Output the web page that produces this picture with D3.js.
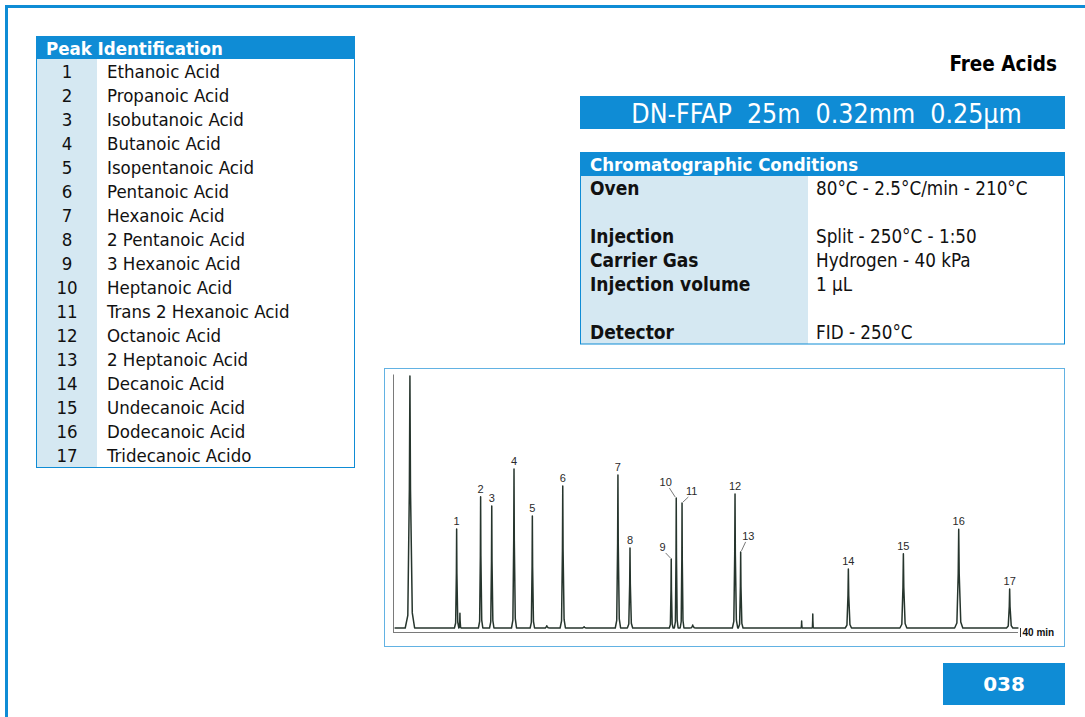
<!DOCTYPE html>
<html>
<head>
<meta charset="utf-8">
<script src="https://cdn.jsdelivr.net/npm/d3@7"></script>
<style>
  html, body { margin: 0; padding: 0; background: #fff; }
  svg { display: block; }
  .cond { font-family: "DejaVu Sans Condensed", "DejaVu Sans", sans-serif; font-stretch: condensed; }
  .num { font-family: "Liberation Sans", Arial, sans-serif; }
</style>
</head>
<body>
<svg id="chart" width="1085" height="717"></svg>
<script>
// ---------------- DATA ----------------
const peakIds = ["1","2","3","4","5","6","7","8","9","10","11","12","13","14","15","16","17"];
const peakNames = ["Ethanoic Acid","Propanoic Acid","Isobutanoic Acid","Butanoic Acid","Isopentanoic Acid",
  "Pentanoic Acid","Hexanoic Acid","2 Pentanoic Acid","3 Hexanoic Acid","Heptanoic Acid",
  "Trans 2 Hexanoic Acid","Octanoic Acid","2 Heptanoic Acid","Decanoic Acid","Undecanoic Acid",
  "Dodecanoic Acid","Tridecanoic Acido"];
// retention time (min) and relative height (%) of the labelled peaks
const peakTimes   = [4.06, 5.59, 6.30, 7.72, 8.89, 10.83, 14.35, 15.12, 17.75, 18.07, 18.44, 21.82, 22.18, 29.05, 32.56, 36.09, 39.34];
const peakHeights = [39.3, 52.1, 48.4, 63.1, 44.4, 56.3, 60.7, 31.7, 27.4, 51.6, 49.6, 53.2, 30.2, 23.4, 29.5, 39.2, 15.5];
const peakWidths  = [0.14, 0.14, 0.14, 0.16, 0.14, 0.17, 0.17, 0.17, 0.12, 0.12, 0.12, 0.17, 0.15, 0.20, 0.22, 0.26, 0.20];
// unlabelled peaks: solvent and minor impurities
const minorTimes   = [1.08, 4.27, 9.81, 12.19, 19.12, 26.07, 26.78];
const minorHeights = [100, 5.9, 0.9, 0.5, 1.2, 2.8, 5.6];
const minorWidths  = [0.30, 0.08, 0.20, 0.20, 0.20, 0.05, 0.05];
const axisEnd = 40; // minutes
const axisLabel = "40 min";

const condLabels = ["Oven", "", "Injection", "Carrier Gas", "Injection volume", "", "Detector"];
const condValues = ["80°C - 2.5°C/min - 210°C", "", "Split - 250°C - 1:50", "Hydrogen - 40 kPa", "1 µL", "", "FID - 250°C"];

const title = "Free Acids";
const columnText = "DN-FFAP  25m  0.32mm  0.25µm";
const pageNo = "038";

// ---------------- STYLE ----------------
const BLUE = "#0f8cd5";
const LIGHT = "#d5e8f2";
const svg = d3.select("#chart");

// page frame
svg.append("path").attr("d", "M6.5,717 V6.5 H1085").attr("fill", "none")
  .attr("stroke", BLUE).attr("stroke-width", 3);

// ---------------- PEAK TABLE ----------------
const pt = svg.append("g");
const rowY = d3.scaleLinear().domain([0, 1]).range([71, 95]);
pt.append("rect").attr("x", 36).attr("y", 36).attr("width", 319).attr("height", 23).attr("fill", BLUE);
pt.append("rect").attr("x", 37).attr("y", 59).attr("width", 60).attr("height", 408).attr("fill", LIGHT);
pt.append("rect").attr("x", 36.5).attr("y", 36.5).attr("width", 318).attr("height", 431)
  .attr("fill", "none").attr("stroke", BLUE).attr("stroke-width", 1);
pt.append("text").attr("class", "cond").attr("x", 46).attr("y", 48).attr("dy", "0.36em")
  .attr("font-size", 18.5).attr("font-weight", "bold").attr("fill", "#fff").text("Peak Identification");
pt.selectAll("text.id").data(peakIds).join("text").attr("class", "cond id")
  .attr("x", 67).attr("y", (d, i) => rowY(i)).attr("dy", "0.36em").attr("text-anchor", "middle")
  .attr("font-size", 18.5).attr("fill", "#111").text(d => d);
pt.selectAll("text.nm").data(peakNames).join("text").attr("class", "cond nm")
  .attr("x", 107).attr("y", (d, i) => rowY(i)).attr("dy", "0.36em")
  .attr("font-size", 18.5).attr("fill", "#111").text(d => d);

// ---------------- TITLE + COLUMN BANNER ----------------
svg.append("text").attr("class", "cond").attr("x", 1057).attr("y", 64).attr("dy", "0.36em")
  .attr("text-anchor", "end").attr("font-size", 20.5).attr("font-weight", "bold").attr("fill", "#000").text(title);
svg.append("rect").attr("x", 580).attr("y", 96).attr("width", 485).attr("height", 33).attr("fill", BLUE);
svg.append("text").attr("class", "cond").attr("x", 826.5).attr("y", 113).attr("dy", "0.36em")
  .attr("text-anchor", "middle").attr("font-size", 26.5).attr("fill", "#fff")
  .style("white-space", "pre").text(columnText);

// ---------------- CONDITIONS TABLE ----------------
const ct = svg.append("g");
ct.append("rect").attr("x", 580).attr("y", 152).attr("width", 485).attr("height", 24).attr("fill", BLUE);
ct.append("rect").attr("x", 581).attr("y", 176).attr("width", 227).attr("height", 168).attr("fill", LIGHT);
ct.append("rect").attr("x", 580.5).attr("y", 152.5).attr("width", 484).attr("height", 191.5)
  .attr("fill", "none").attr("stroke", BLUE).attr("stroke-width", 1);
ct.append("text").attr("class", "cond").attr("x", 590).attr("y", 164).attr("dy", "0.36em")
  .attr("font-size", 18.5).attr("font-weight", "bold").attr("fill", "#fff").text("Chromatographic Conditions");
const condY = d3.scaleLinear().domain([0, 1]).range([188, 212]);
ct.selectAll("text.lb").data(condLabels).join("text").attr("class", "cond lb")
  .attr("x", 590).attr("y", (d, i) => condY(i)).attr("dy", "0.36em")
  .attr("font-size", 19).attr("font-weight", "bold").attr("fill", "#111").text(d => d);
ct.selectAll("text.vl").data(condValues).join("text").attr("class", "cond vl")
  .attr("x", 816).attr("y", (d, i) => condY(i)).attr("dy", "0.36em")
  .attr("font-size", 18.7).attr("fill", "#111").text(d => d);

// ---------------- CHROMATOGRAM ----------------
svg.append("rect").attr("x", 384.5).attr("y", 368.5).attr("width", 680).attr("height", 278)
  .attr("fill", "#fff").attr("stroke", "#62b2e3").attr("stroke-width", 1);

const x = d3.scaleLinear().domain([0, axisEnd]).range([393, 1020]);
const y = d3.scaleLinear().domain([0, 100]).range([628, 376]);

// axes
const yFrame = d3.scaleLinear().domain([y.invert(632), y.invert(374)]).range([632, 374]);
const gy = svg.append("g").attr("transform", `translate(${x(0)},0)`)
  .call(d3.axisLeft(yFrame).tickValues([]).tickSizeOuter(0));
gy.select(".domain").attr("stroke", "#7a7a7a");
const gx = svg.append("g").attr("transform", "translate(0,632)")
  .call(d3.axisBottom(x).tickValues([axisEnd]).tickSizeOuter(0).tickSizeInner(5).tickFormat(() => axisLabel));
gx.select(".domain").attr("stroke", "#7a7a7a").attr("d", `M${x(0)},0.5H${x(axisEnd) - 2}`);
gx.selectAll(".tick line").attr("y1", -4).attr("y2", 5).attr("stroke", "#333");
gx.selectAll(".tick text").attr("class", "num").attr("x", 2).attr("y", 0).attr("dy", "0.36em")
  .attr("text-anchor", "start").attr("font-size", 10).attr("font-weight", "bold").attr("fill", "#111");

// build trace from peak list
const allPeaks = peakTimes.map((t, i) => ({t, h: peakHeights[i], w: peakWidths[i]}))
  .concat(minorTimes.map((t, i) => ({t, h: minorHeights[i], w: minorWidths[i]})))
  .sort((a, b) => a.t - b.t);
const trace = [[0.1, 0]];
allPeaks.forEach(p => {
  trace.push([p.t - p.w, 0], [p.t - 0.45 * p.w, 0.05 * p.h], [p.t - 0.12 * p.w, 0.55 * p.h],
    [p.t, p.h], [p.t + 0.12 * p.w, 0.55 * p.h], [p.t + 0.5 * p.w, 0.06 * p.h], [p.t + p.w, 0]);
});
trace.push([axisEnd - 0.1, 0]);
const line = d3.line().x(d => x(d[0])).y(d => y(d[1]));
svg.append("path").datum(trace).attr("d", line).attr("fill", "none")
  .attr("stroke", "#26352d").attr("stroke-width", 1.5).attr("stroke-linejoin", "round");

// peak labels (offsets in px for crowded peaks, with leader lines)
const labelOff = {"9": [-8.6, -12, true], "10": [-10.6, -16, true], "11": [9.7, -12, true], "13": [7.6, -16, true]};
const lg = svg.append("g");
peakIds.forEach((id, i) => {
  const px = x(peakTimes[i]), py = y(peakHeights[i]);
  const off = labelOff[id] || [0, -8, false];
  lg.append("text").attr("class", "num").attr("x", px + off[0]).attr("y", py + off[1]).attr("dy", "0.36em")
    .attr("text-anchor", "middle").attr("font-size", 11).attr("fill", "#2a2a2a").text(id);
  if (off[2]) {
    const lx = px + off[0] * 0.65, ly = py + off[1] + 6;
    lg.append("line").attr("x1", lx).attr("y1", ly).attr("x2", px + off[0] * 0.1).attr("y2", py - 1)
      .attr("stroke", "#555").attr("stroke-width", 0.8);
  }
});

// ---------------- PAGE NUMBER ----------------
svg.append("rect").attr("x", 943).attr("y", 663).attr("width", 122).attr("height", 42).attr("fill", BLUE);
svg.append("text").attr("x", 1004).attr("y", 684).attr("dy", "0.36em").attr("text-anchor", "middle")
  .attr("font-family", "DejaVu Sans, sans-serif").attr("font-size", 20).attr("font-weight", "bold")
  .attr("fill", "#fff").text(pageNo);
</script>
</body>
</html>
